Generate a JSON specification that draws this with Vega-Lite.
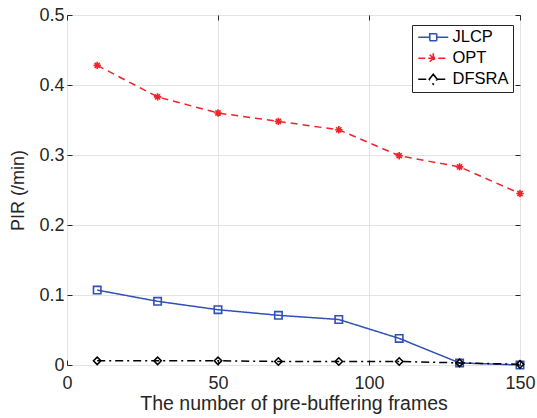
{
  "$schema": "https://vega.github.io/schema/vega-lite/v6.json",
  "width": 453,
  "height": 350,
  "autosize": {"type": "none"},
  "padding": {"left": 67, "top": 15, "right": 17, "bottom": 53},
  "config": {
    "font": "Liberation Sans",
    "view": {"stroke": "#262626", "strokeWidth": 1},
    "axis": {
      "labelFont": "Liberation Sans",
      "titleFont": "Liberation Sans",
      "labelColor": "#262626",
      "titleColor": "#262626",
      "labelFontSize": 18,
      "titleFontSize": 18,
      "titleFontWeight": "normal",
      "gridColor": "#e3e3e3",
      "domain": false,
      "tickColor": "#262626",
      "tickSize": -5,
      "labelFlush": false
    }
  },
  "data": {
    "values": [
      {"frames": 10, "series": "JLCP", "pir": 0.107},
      {"frames": 30, "series": "JLCP", "pir": 0.091},
      {"frames": 50, "series": "JLCP", "pir": 0.079},
      {"frames": 70, "series": "JLCP", "pir": 0.071},
      {"frames": 90, "series": "JLCP", "pir": 0.065},
      {"frames": 110, "series": "JLCP", "pir": 0.038},
      {"frames": 130, "series": "JLCP", "pir": 0.003},
      {"frames": 150, "series": "JLCP", "pir": 0.0},
      {"frames": 10, "series": "OPT", "pir": 0.428},
      {"frames": 30, "series": "OPT", "pir": 0.383},
      {"frames": 50, "series": "OPT", "pir": 0.36},
      {"frames": 70, "series": "OPT", "pir": 0.348},
      {"frames": 90, "series": "OPT", "pir": 0.336},
      {"frames": 110, "series": "OPT", "pir": 0.299},
      {"frames": 130, "series": "OPT", "pir": 0.283},
      {"frames": 150, "series": "OPT", "pir": 0.245},
      {"frames": 10, "series": "DFSRA", "pir": 0.006},
      {"frames": 30, "series": "DFSRA", "pir": 0.006},
      {"frames": 50, "series": "DFSRA", "pir": 0.006},
      {"frames": 70, "series": "DFSRA", "pir": 0.005},
      {"frames": 90, "series": "DFSRA", "pir": 0.005},
      {"frames": 110, "series": "DFSRA", "pir": 0.005},
      {"frames": 130, "series": "DFSRA", "pir": 0.003},
      {"frames": 150, "series": "DFSRA", "pir": 0.001}
    ]
  },
  "resolve": {"axis": {"x": "independent", "y": "independent"}, "scale": {"shape": "independent"}},
  "layer": [
    {
      "mark": {"type": "line", "strokeWidth": 1.5},
      "encoding": {
        "x": {"field": "frames", "type": "quantitative", "scale": {"domain": [0, 150], "nice": false},
              "axis": {"values": [0, 50, 100, 150], "title": "The number of pre-buffering frames", "titleFontSize": 19.5, "labelPadding": 14, "titlePadding": 2}},
        "y": {"field": "pir", "type": "quantitative", "scale": {"domain": [0, 0.5], "nice": false},
              "axis": {"values": [0, 0.1, 0.2, 0.3, 0.4, 0.5], "format": "~g", "title": "PIR (/min)", "titleFontSize": 18, "labelPadding": 8, "titlePadding": 11}},
        "color": {"field": "series", "type": "nominal", "scale": {"domain": ["JLCP", "OPT", "DFSRA"], "range": ["#3050b5", "#f0232b", "#000000"]},
                  "legend": {"title": null, "orient": "none", "legendX": 345, "legendY": 10, "strokeColor": "#262626", "fillColor": "white", "padding": 4, "labelFontSize": 16.5, "labelColor": "#000000", "symbolSize": 100, "symbolStrokeWidth": 1.6, "rowPadding": 4, "symbolOffset": 9, "labelOffset": 11,
                    "encode": {"symbols": {"update": {"shape": {"signal": "datum.value === 'JLCP' ? 'M-3,0H-0.7M0.7,0H3M-0.7,-0.7H0.7V0.7H-0.7Z' : datum.value === 'OPT' ? 'M-3,0H-1M1,0H3M-1,0H1M0,-1V1M-0.7,-0.7L0.7,0.7M-0.7,0.7L0.7,-0.7' : 'M-3,0H-0.8M0.8,0H3M0,-1L0.8,0L0,1L-0.8,0Z'"}}}}}},
        "strokeDash": {"field": "series", "type": "nominal", "scale": {"domain": ["JLCP", "OPT", "DFSRA"], "range": [[1, 0], [7, 5], [8, 4, 2, 4]]}}
      }
    },
    {
      "mark": {"type": "point", "filled": false, "strokeWidth": 1.6, "size": 55, "opacity": 1},
      "encoding": {
        "x": {"field": "frames", "type": "quantitative", "axis": null},
        "y": {"field": "pir", "type": "quantitative", "axis": null},
        "color": {"field": "series", "type": "nominal"},
        "shape": {"field": "series", "type": "nominal", "legend": null, "scale": {"domain": ["JLCP", "OPT", "DFSRA"], "range": ["square", "M-1,0L1,0M0,-1L0,1M-0.7,-0.7L0.7,0.7M-0.7,0.7L0.7,-0.7", "diamond"]}}
      }
    },
    {
      "mark": {"type": "point", "opacity": 0},
      "encoding": {
        "x": {"field": "frames", "type": "quantitative",
              "axis": {"orient": "top", "values": [0, 50, 100, 150], "labels": false, "title": null, "grid": false}},
        "y": {"field": "pir", "type": "quantitative",
              "axis": {"orient": "right", "values": [0, 0.1, 0.2, 0.3, 0.4, 0.5], "labels": false, "title": null, "grid": false}}
      }
    }
  ]
}
